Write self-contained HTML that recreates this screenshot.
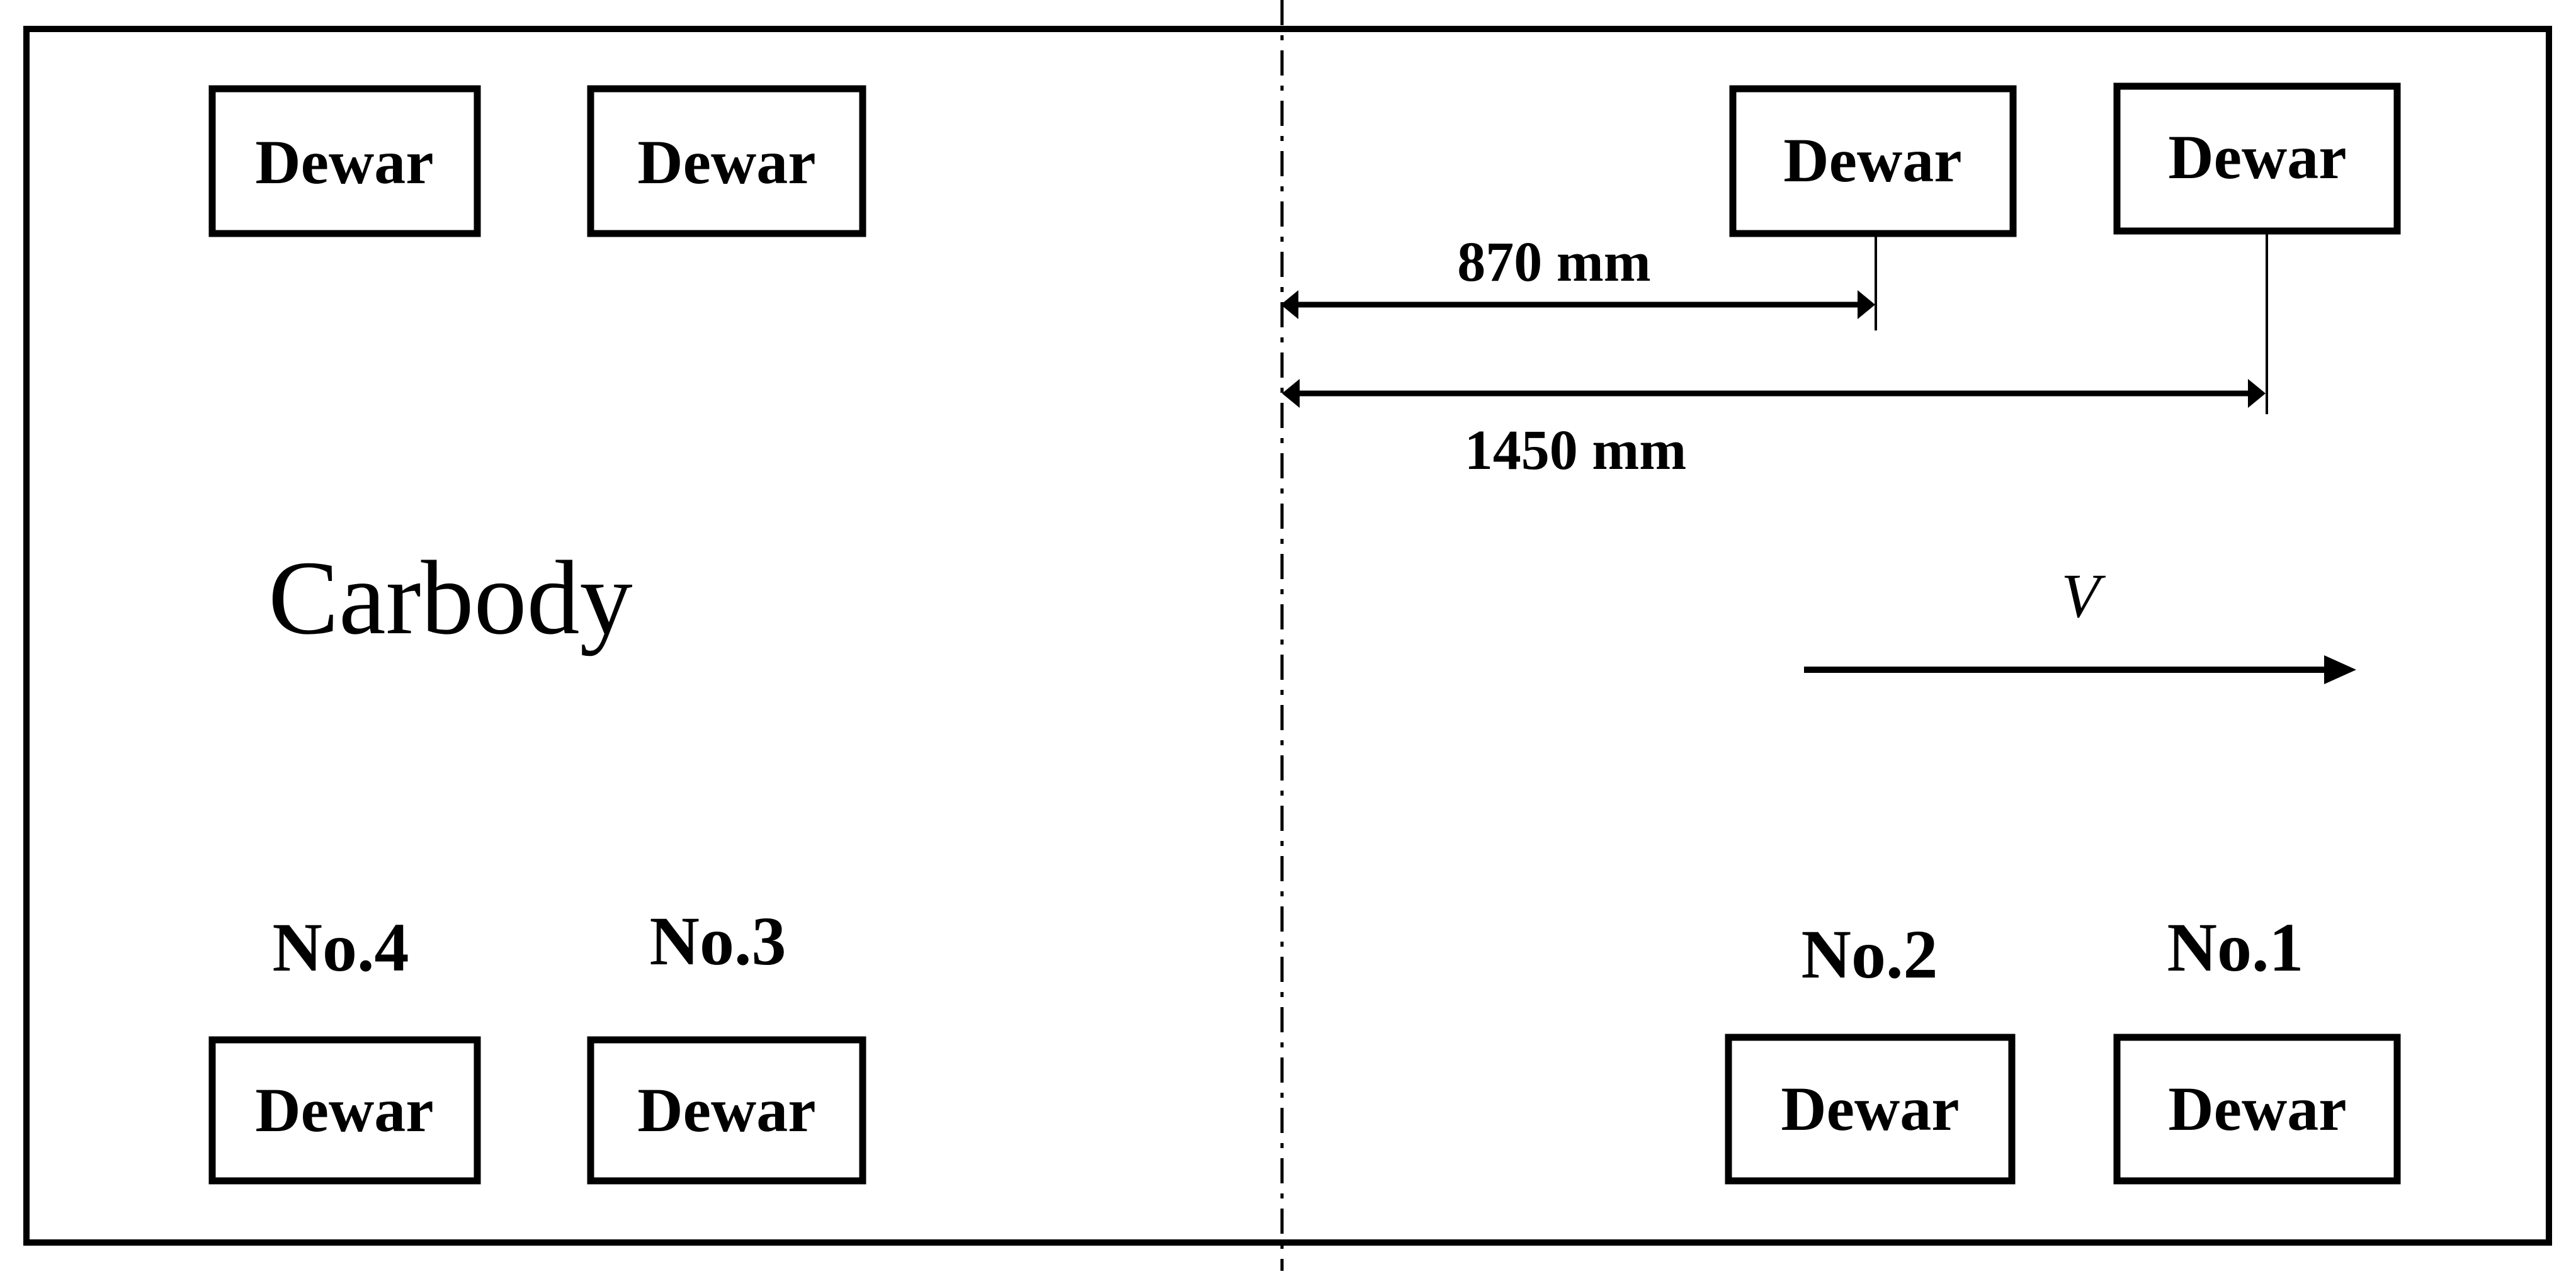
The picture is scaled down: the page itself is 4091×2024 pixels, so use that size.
<!DOCTYPE html>
<html><head><style>html,body{margin:0;padding:0;background:#fff}</style></head>
<body>
<svg width="4091" height="2019" viewBox="0 0 4091 2019" xmlns="http://www.w3.org/2000/svg">
<rect width="4091" height="2019" fill="#fff"/>
<rect x="42" y="46" width="4006" height="1928" fill="none" stroke="#000" stroke-width="10"/>
<line x1="2036" y1="0" x2="2036" y2="2019" stroke="#000" stroke-width="5" stroke-dasharray="40,16,8,16"/>
<g fill="none" stroke="#000" stroke-width="11">
<rect x="337" y="141" width="421" height="230"/>
<rect x="938" y="141" width="432" height="230"/>
<rect x="2752" y="141" width="445" height="230"/>
<rect x="3362" y="137" width="445" height="230"/>
<rect x="337" y="1652" width="421" height="224"/>
<rect x="938" y="1652" width="432" height="224"/>
<rect x="2745" y="1648" width="450" height="228"/>
<rect x="3362" y="1648" width="445" height="228"/>
</g>
<g font-family="Liberation Serif, serif" font-weight="bold" font-size="100" text-anchor="middle" fill="#000">
<text x="547" y="291">Dewar</text>
<text x="1154" y="291">Dewar</text>
<text x="2974" y="288">Dewar</text>
<text x="3585" y="283">Dewar</text>
<text x="547" y="1797">Dewar</text>
<text x="1154" y="1797">Dewar</text>
<text x="2970" y="1795">Dewar</text>
<text x="3585" y="1795">Dewar</text>
<text x="541" y="1542" font-size="110">No.4</text>
<text x="1140" y="1532" font-size="110">No.3</text>
<text x="2969" y="1553" font-size="110">No.2</text>
<text x="3550" y="1542" font-size="110">No.1</text>
<text x="2468" y="446" font-size="90">870 mm</text>
<text x="2502" y="745" font-size="90">1450 mm</text>
</g>
<text x="426" y="1006" font-family="Liberation Serif, serif" font-size="168" fill="#000">Carbody</text>
<text x="3304" y="980" font-family="Liberation Serif, serif" font-style="italic" font-size="100" text-anchor="middle" fill="#000">V</text>
<g stroke="#000">
<line x1="2979" y1="371" x2="2979" y2="525" stroke-width="4"/>
<line x1="3600" y1="367" x2="3600" y2="658" stroke-width="4"/>
<line x1="2060" y1="484" x2="2950" y2="484" stroke-width="9"/>
<line x1="2060" y1="625" x2="3572" y2="625" stroke-width="9"/>
<line x1="2865" y1="1064" x2="3700" y2="1064" stroke-width="10"/>
</g>
<g fill="#000">
<polygon points="2034,484 2062,461 2062,507"/>
<polygon points="2978,484 2950,461 2950,507"/>
<polygon points="2036,625 2064,602 2064,648"/>
<polygon points="3598,625 3570,602 3570,648"/>
<polygon points="3742,1064 3691,1041 3691,1087"/>
</g>
</svg>
</body></html>
